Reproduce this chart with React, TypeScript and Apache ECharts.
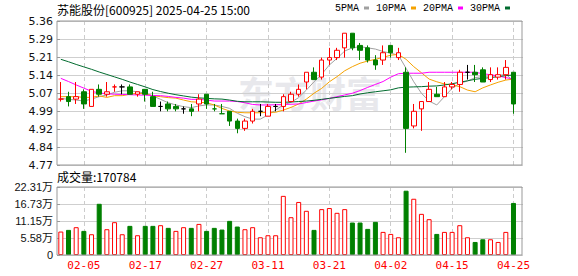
import React, { useEffect, useRef } from "react";
import * as echarts from "echarts";

const title = "苏能股份[600925] 2025-04-25 15:00";
const volTitle = "成交量:170784";

const dates = [
  "01-23", "01-24", "01-27", "02-05", "02-06", "02-07", "02-10", "02-11", "02-12", "02-13",
  "02-14", "02-17", "02-18", "02-19", "02-20", "02-21", "02-24", "02-25", "02-26", "02-27",
  "02-28", "03-03", "03-04", "03-05", "03-06", "03-07", "03-10", "03-11", "03-12", "03-13",
  "03-14", "03-17", "03-18", "03-19", "03-20", "03-21", "03-24", "03-25", "03-26", "03-27",
  "03-28", "03-31", "04-01", "04-02", "04-03", "04-07", "04-08", "04-09", "04-10", "04-11",
  "04-14", "04-15", "04-16", "04-17", "04-18", "04-21", "04-22", "04-23", "04-24", "04-25",
];

const labelDates = ["02-05", "02-17", "02-27", "03-11", "03-21", "04-02", "04-15", "04-25"];

const opens = [
  5.04, 5.05, 5.04, 5.07, 5.01, 5.08, 5.06, 5.09, 5.09, 5.09,
  5.06, 5.08, 5.05, 5.01, 5.02, 5.01, 5.00, 5.00, 5.02, 5.06,
  5.00, 4.98, 4.99, 4.95, 4.92, 4.95, 4.99, 4.97, 5.01, 5.01,
  5.03, 5.06, 5.11, 5.15, 5.13, 5.20, 5.21, 5.25, 5.31, 5.26,
  5.25, 5.20, 5.20, 5.26, 5.21, 5.15, 4.93, 5.00, 5.03, 5.06,
  5.05, 5.09, 5.10, 5.15, 5.15, 5.16, 5.12, 5.13, 5.14, 5.15,
];
const closes = [
  5.04, 5.03, 5.05, 5.02, 5.08, 5.06, 5.07, 5.09, 5.09, 5.06,
  5.07, 5.06, 5.01, 5.01, 5.00, 5.00, 5.00, 4.99, 5.04, 5.02,
  5.00, 4.98, 4.95, 4.92, 4.95, 4.99, 4.99, 5.01, 5.01, 5.05,
  5.06, 5.08, 5.15, 5.12, 5.20, 5.21, 5.24, 5.31, 5.25, 5.24,
  5.20, 5.18, 5.23, 5.23, 5.23, 4.92, 4.99, 5.03, 5.08, 5.05,
  5.09, 5.10, 5.15, 5.15, 5.14, 5.11, 5.14, 5.14, 5.17, 5.02,
];
const lows = [
  5.03, 5.01, 5.02, 5.00, 5.01, 5.05, 5.05, 5.07, 5.06, 5.06,
  5.05, 5.03, 5.01, 4.99, 4.99, 4.99, 4.98, 4.97, 4.99, 5.00,
  4.99, 4.98, 4.93, 4.90, 4.91, 4.94, 4.97, 4.97, 4.99, 4.99,
  5.03, 5.05, 5.08, 5.12, 5.12, 5.18, 5.20, 5.21, 5.24, 5.20,
  5.19, 5.16, 5.18, 5.21, 5.20, 4.82, 4.92, 4.91, 5.03, 5.05,
  5.05, 5.08, 5.07, 5.12, 5.11, 5.11, 5.11, 5.12, 5.12, 4.98,
];
const highs = [
  5.11, 5.07, 5.11, 5.08, 5.08, 5.10, 5.11, 5.10, 5.10, 5.10,
  5.07, 5.08, 5.07, 5.03, 5.03, 5.02, 5.01, 5.02, 5.06, 5.06,
  5.02, 5.02, 4.99, 4.96, 4.96, 5.00, 5.02, 5.02, 5.02, 5.06,
  5.07, 5.10, 5.15, 5.17, 5.21, 5.25, 5.25, 5.31, 5.31, 5.27,
  5.26, 5.22, 5.26, 5.26, 5.25, 5.17, 5.02, 5.03, 5.11, 5.09,
  5.11, 5.11, 5.16, 5.18, 5.18, 5.17, 5.17, 5.17, 5.20, 5.15,
];

const volumes = [
  76900, 82400, 91200, 79100, 68100, 168000, 84600, 107700, 68100, 95600,
  64800, 95600, 95600, 97800, 89000, 79100, 91200, 89000, 102000, 79100,
  89000, 83500, 112000, 93400, 84600, 91200, 58200, 64800, 64800, 194000,
  124000, 174000, 145000, 82400, 150500, 154000, 138400, 150500, 106500, 106500,
  85700, 108700, 75800, 69200, 58200, 210900, 184500, 135000, 117500, 69200,
  75800, 75800, 97800, 58200, 42800, 51600, 51600, 42800, 75800, 170784,
];

const ma5 = [
  5.043, 5.039, 5.036, 5.032, 5.040, 5.050, 5.057, 5.068, 5.074, 5.074,
  5.070, 5.064, 5.053, 5.039, 5.025, 5.016, 5.009, 5.005, 5.012, 5.016,
  5.016, 5.010, 5.002, 4.982, 4.968, 4.958, 4.958, 4.975, 4.995, 5.016,
  5.027, 5.046, 5.077, 5.111, 5.142, 5.180, 5.207, 5.237, 5.250, 5.255,
  5.250, 5.245, 5.235, 5.228, 5.220, 5.166, 5.111, 5.064, 5.032, 5.016,
  5.050, 5.084, 5.105, 5.114, 5.128, 5.132, 5.135, 5.136, 5.142, 5.114,
];
const ma10 = [
  5.050, 5.050, 5.050, 5.047, 5.047, 5.053, 5.047, 5.054, 5.054, 5.060,
  5.064, 5.062, 5.053, 5.050, 5.046, 5.044, 5.036, 5.029, 5.027, 5.025,
  5.016, 5.002, 4.991, 4.986, 4.984, 4.984, 4.984, 4.986, 4.986, 4.995,
  5.006, 5.020, 5.040, 5.064, 5.084, 5.111, 5.132, 5.156, 5.173, 5.187,
  5.196, 5.203, 5.211, 5.220, 5.223, 5.203, 5.173, 5.148, 5.122, 5.111,
  5.102, 5.098, 5.091, 5.077, 5.070, 5.086, 5.098, 5.109, 5.118, 5.122,
];
const ma20 = [
  5.125, 5.112, 5.098, 5.085, 5.072, 5.065, 5.062, 5.060, 5.059, 5.058,
  5.057, 5.056, 5.055, 5.054, 5.051, 5.047, 5.044, 5.039, 5.039, 5.036,
  5.032, 5.032, 5.032, 5.030, 5.025, 5.018, 5.016, 5.016, 5.017, 5.018,
  5.019, 5.020, 5.026, 5.032, 5.037, 5.043, 5.050, 5.057, 5.064, 5.075,
  5.088, 5.100, 5.112, 5.130, 5.144, 5.146, 5.146, 5.146, 5.150, 5.150,
  5.150, 5.150, 5.150, 5.150, 5.150, 5.144, 5.140, 5.135, 5.128, 5.122,
];
const ma30 = [
  5.203, 5.193, 5.182, 5.172, 5.162, 5.151, 5.141, 5.131, 5.121, 5.110,
  5.100, 5.090, 5.079, 5.071, 5.064, 5.058, 5.053, 5.048, 5.045, 5.043,
  5.041, 5.040, 5.036, 5.031, 5.029, 5.029, 5.029, 5.028, 5.027, 5.027,
  5.028, 5.030, 5.032, 5.035, 5.039, 5.043, 5.047, 5.051, 5.054, 5.061,
  5.066, 5.070, 5.074, 5.078, 5.086, 5.089, 5.090, 5.091, 5.093, 5.094,
  5.098, 5.103, 5.109, 5.115, 5.121, 5.125, 5.128, 5.132, 5.136, 5.139,
];

const maNames = ["5PMA", "10PMA", "20PMA", "30PMA"];
const maColors = ["#a0a0a0", "#f5a200", "#ff00ff", "#006b2e"];

const priceMin = 4.77;
const priceMax = 5.36;
const priceTicks = ["4.77", "4.84", "4.92", "4.99", "5.07", "5.14", "5.21", "5.29", "5.36"];
const volMax = 223100;
const volTicks = ["0", "5.58万", "11.15万", "16.73万", "22.31万"];

const RED = "#ff0000";
const GREEN = "#008000";

export default function App() {
  const ref = useRef<HTMLDivElement>(null);

  useEffect(() => {
    const el = ref.current;
    if (!el) return;
    const chart = echarts.init(el, null, { renderer: "svg" });
    const cats = [...dates, ""];

    const candleData = dates.map((_, i) => {
      const o = opens[i];
      const c = closes[i];
      const prev = i > 0 ? closes[i - 1] : -Infinity;
      let kind: "up" | "down" | "flat";
      if (c > o) kind = "up";
      else if (c < o) kind = "down";
      else kind = c > prev ? "up" : c < prev ? "down" : "flat";
      const col = kind === "up" ? RED : kind === "down" ? GREEN : "#000000";
      const fill = kind === "up" ? "#ffffff" : col;
      return {
        value: [o, c, lows[i], highs[i]],
        itemStyle: { color: fill, color0: fill, borderColor: col, borderColor0: col },
      };
    });

    const volData = volumes.map((v, i) => {
      const up = i === 0 || closes[i] >= closes[i - 1];
      return {
        value: v,
        itemStyle: up
          ? { color: "#ffffff", borderColor: RED, borderWidth: 1 }
          : { color: GREEN, borderColor: GREEN, borderWidth: 1 },
      };
    });

    const showIdx = (_: number, value: string) => labelDates.includes(value);
    const priceInterval = (priceMax - priceMin) / 8;
    const volInterval = volMax / 4;

    const maSeries = [ma5, ma10, ma20, ma30].map((d, k) => ({
      name: maNames[k],
      type: "line",
      xAxisIndex: 0,
      yAxisIndex: 0,
      data: d,
      symbol: "none",
      showSymbol: false,
      silent: true,
      z: 3,
      lineStyle: { width: 1, color: maColors[k] },
      itemStyle: { color: maColors[k] },
    }));

    const option: any = {
      animation: false,
      backgroundColor: "#ffffff",
      legend: {
        left: 335,
        top: 3,
        align: "right",
        icon: "rect",
        itemWidth: 5,
        itemHeight: 3,
        itemGap: 7,
        padding: 0,
        selectedMode: false,
        data: maNames,
        textStyle: { fontFamily: "Liberation Mono", fontSize: 10, color: "#000" },
      },
      grid: [
        { left: 57, top: 21, width: 468, height: 144, show: false },
        { left: 57, top: 187, width: 468, height: 68, show: false },
      ],
      xAxis: [
        {
          type: "category",
          gridIndex: 0,
          data: cats,
          boundaryGap: true,
          axisLine: { show: false },
          axisTick: { show: false },
          axisLabel: { show: false },
          splitLine: {
            show: true,
            interval: showIdx,
            alignWithLabel: true,
            lineStyle: { color: "#cccccc", type: [4, 3], width: 1 },
          },
        },
        {
          type: "category",
          gridIndex: 1,
          data: cats,
          boundaryGap: true,
          axisLine: { show: false },
          axisTick: { show: false },
          axisLabel: {
            show: true,
            interval: showIdx,
            color: RED,
            fontFamily: "DejaVu Sans Mono",
            fontSize: 11,
            margin: 5,
          },
          splitLine: {
            show: true,
            interval: showIdx,
            alignWithLabel: true,
            lineStyle: { color: "#cccccc", type: [4, 3], width: 1 },
          },
        },
      ],
      yAxis: [
        {
          type: "value",
          gridIndex: 0,
          min: priceMin,
          max: priceMax,
          interval: priceInterval,
          axisLine: { show: false },
          axisTick: { show: true, inside: true, length: 3, lineStyle: { color: "#999" } },
          axisLabel: {
            color: "#111",
            fontFamily: "DejaVu Sans",
            fontSize: 11,
            margin: 4,
            formatter: (v: number) => priceTicks[Math.round((v - priceMin) / priceInterval)] ?? "",
          },
          splitLine: { show: true, lineStyle: { color: "#cfcfcf", width: 1 } },
        },
        {
          type: "value",
          gridIndex: 1,
          min: 0,
          max: volMax,
          interval: volInterval,
          axisLine: { show: false },
          axisTick: { show: true, inside: true, length: 3, lineStyle: { color: "#999" } },
          axisLabel: {
            color: "#111",
            fontFamily: "Liberation Sans, Noto Sans CJK SC",
            fontSize: 11,
            margin: 4,
            formatter: (v: number) => volTicks[Math.round(v / volInterval)] ?? "",
          },
          splitLine: { show: true, lineStyle: { color: "#cfcfcf", width: 1 } },
        },
      ],
      graphic: [
        {
          type: "text",
          x: 238,
          y: 74,
          silent: true,
          z: -1,
          style: {
            text: "东方财富",
            fill: "#e8e8ec",
            font: 'bold 36px "Noto Sans CJK SC"',
          },
        },
        {
          type: "text",
          x: 57,
          y: 9,
          silent: true,
          style: {
            text: title,
            fill: "#000",
            font: '12px "Noto Sans CJK SC"',
            verticalAlign: "middle",
          },
        },
        {
          type: "text",
          x: 57,
          y: 176,
          silent: true,
          style: {
            text: volTitle,
            fill: "#000",
            font: '12px "Noto Sans CJK SC"',
            verticalAlign: "middle",
          },
        },
        { type: "rect", silent: true, z: 99, shape: { x: 523, y: 18, width: 8, height: 150 }, style: { fill: "#fff" } },
        { type: "rect", silent: true, z: 99, shape: { x: 523, y: 184, width: 8, height: 74 }, style: { fill: "#fff" } },
        {
          type: "rect",
          silent: true,
          z: 100,
          shape: { x: 57, y: 21, width: 465, height: 144 },
          style: { fill: "none", stroke: "#999", lineWidth: 1 },
        },
        {
          type: "rect",
          silent: true,
          z: 100,
          shape: { x: 57, y: 187, width: 465, height: 68 },
          style: { fill: "none", stroke: "#999", lineWidth: 1 },
        },
      ],
      series: [
        {
          name: "K",
          type: "candlestick",
          xAxisIndex: 0,
          yAxisIndex: 0,
          data: candleData,
          barWidth: 5,
          silent: true,
          z: 4,
          itemStyle: { borderWidth: 1 },
        },
        ...maSeries,
        {
          name: "VOL",
          type: "bar",
          xAxisIndex: 1,
          yAxisIndex: 1,
          data: volData,
          barWidth: 5,
          silent: true,
        },
      ],
    };

    chart.setOption(option);
    return () => chart.dispose();
  }, []);

  return (
    <div
      ref={ref}
      style={{ position: "absolute", left: 0, top: 0, width: 578, height: 276, background: "#fff" }}
    />
  );
}
